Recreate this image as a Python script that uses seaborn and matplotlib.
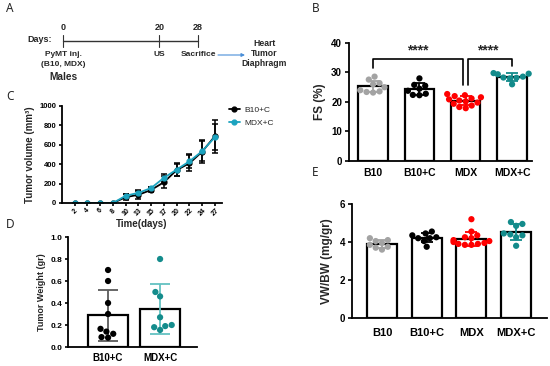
import warnings
warnings.filterwarnings("ignore")
import numpy as np
import pandas as pd
import matplotlib
matplotlib.use("Agg")
import matplotlib.pyplot as plt
import seaborn as sns

# ---------------- data ----------------
timeline_days = [0, 20, 28]
timeline_events = ["PyMT inj.", "US", "Sacrifice"]
cohort_lines = ["(B10, MDX)", "Males"]
harvested = ["Heart", "Tumor", "Diaphragm"]

groups = ["B10", "B10+C", "MDX", "MDX+C"]
fs_b10 = [28.6, 27.6, 26.4, 26.0, 25.0, 24.0, 23.6, 23.4, 23.2]
fs_b10c = [28.0, 25.8, 25.5, 24.5, 23.8, 22.8, 22.4, 22.3]
fs_mdx = [22.7, 22.3, 22.0, 21.6, 21.2, 20.9, 20.5, 20.2, 19.8, 19.4, 18.8, 18.3, 17.9]
fs_mdxc = [29.8, 29.6, 29.4, 28.6, 28.3, 28.2, 28.0, 26.0]
fs_sig = [("B10", "MDX", "****"), ("MDX", "MDX+C", "****")]

vw_b10 = [4.2, 4.1, 4.05, 3.95, 3.85, 3.75, 3.7, 3.6]
vw_b10c = [4.55, 4.45, 4.35, 4.25, 4.2, 4.2, 4.05, 3.75]
vw_mdx = [5.2, 4.55, 4.35, 4.25, 4.2, 4.1, 4.05, 4.0, 3.95, 3.9, 3.9, 3.85, 3.85]
vw_mdxc = [5.05, 4.95, 4.85, 4.45, 4.4, 4.35, 4.25, 3.8]

tumor_days = [2, 4, 6, 8, 10, 13, 15, 17, 20, 22, 24, 27]
vol_b10c_mean = [0, 0, 0, 0, 60, 85, 135, 215, 340, 410, 530, 690]
vol_b10c_sd = [0, 0, 0, 0, 30, 40, 25, 65, 65, 85, 120, 170]
vol_mdxc_mean = [0, 0, 0, 0, 75, 105, 155, 260, 345, 430, 535, 680]
vol_mdxc_sd = [0, 0, 0, 0, 20, 25, 15, 40, 70, 70, 100, 130]

tw_groups = ["B10+C", "MDX+C"]
tw_b10c = [0.70, 0.60, 0.40, 0.30, 0.14, 0.165, 0.12, 0.085, 0.09]
tw_mdxc = [0.80, 0.50, 0.46, 0.27, 0.20, 0.18, 0.19, 0.155]

# ---------------- style ----------------
sns.set_theme(style="ticks")
plt.rcParams['font.family'] = ['Liberation Sans', 'DejaVu Sans']
plt.rcParams.update({
    'font.weight': 'bold', 'axes.labelweight': 'bold',
    'axes.linewidth': 1.3, 'axes.edgecolor': 'black',
    'xtick.color': 'black', 'ytick.color': 'black',
    'xtick.major.width': 1.2, 'ytick.major.width': 1.2,
    'xtick.major.size': 3, 'ytick.major.size': 3,
})

W, H = 550, 366
fig = plt.figure(figsize=(W / 100, H / 100), dpi=100)


def px_axes(x0, y0, x1, y1):
    return fig.add_axes([x0 / W, 1 - y1 / H, (x1 - x0) / W, (y1 - y0) / H])


def ftext(x, y, s, **kw):
    fig.text(x / W, 1 - y / H, s, **kw)


def long_df(names, arrays):
    return pd.DataFrame({
        "group": np.concatenate([[n] * len(a) for n, a in zip(names, arrays)]),
        "value": np.concatenate([np.asarray(a, float) for a in arrays]),
    })


def bar_panel(ax, df, order, pal, errpal, width, size, capsize):
    sns.barplot(data=df, x="group", y="value", order=order, errorbar=None,
                color="white", edgecolor="black", linewidth=1.6, width=width,
                ax=ax, zorder=1)
    stats = df.groupby("group")["value"].agg(["mean", "std"]).reindex(order)
    for i, g in enumerate(order):
        ax.errorbar(i, stats.loc[g, "mean"], yerr=stats.loc[g, "std"],
                    color=errpal[g], capsize=capsize, elinewidth=1.3,
                    capthick=1.3, zorder=2)
    sns.swarmplot(data=df, x="group", y="value", order=order, hue="group",
                  palette=pal, size=size, ax=ax, legend=False, zorder=3,
                  linewidth=0)
    sns.despine(ax=ax)
    ax.set_xlabel("")
    ax.tick_params(axis="x", length=0)


# panel letters
for lab, x, y in [("A", 6, 9), ("B", 312, 9), ("C", 6, 97), ("D", 6, 225), ("E", 312, 173)]:
    ftext(x, y, lab, ha="left", va="center", fontsize=8.5, fontweight="normal",
          family=["Noto Sans", "DejaVu Sans"])

# ---------------- Panel A ----------------
axA = px_axes(63, 20, 198, 85)
axA.set_xlim(min(timeline_days), max(timeline_days))
axA.set_ylim(85, 20)
axA.axis("off")
axA.plot([min(timeline_days), max(timeline_days)], [41, 41], color="#333333",
         lw=1.0, clip_on=False)
for d, ev in zip(timeline_days, timeline_events):
    axA.plot([d, d], [35, 47], color="#333333", lw=0.8, clip_on=False)
    axA.text(d, 27, str(d), ha="center", va="center", fontsize=6.5)
    axA.text(d, 55, ev, ha="center", va="center", fontsize=6)
axA.text(min(timeline_days), 65, cohort_lines[0], ha="center", va="center", fontsize=6)
axA.text(min(timeline_days), 77, cohort_lines[1], ha="center", va="center", fontsize=7.3)
ftext(52, 40, "Days:", ha="right", va="center", fontsize=6.5)
axA.annotate("", xy=(245, H - 55), xytext=(218, H - 55), xycoords="figure pixels",
             textcoords="figure pixels",
             arrowprops=dict(arrowstyle="-|>", color="#4a8fd8", lw=0.8,
                             mutation_scale=5, shrinkA=0, shrinkB=0))
for i, organ in enumerate(harvested):
    ftext(264, 44 + 10 * i, organ, ha="center", va="center", fontsize=6.2)

# ---------------- Panel B ----------------
pal4 = {"B10": "#a3a3a3", "B10+C": "#000000", "MDX": "#ff0000", "MDX+C": "#138b8b"}
fs_df = long_df(groups, [fs_b10, fs_b10c, fs_mdx, fs_mdxc])
axB = px_axes(349, 43, 532, 161)
bar_panel(axB, fs_df, groups, pal4, pal4, 0.63, 4.5, 4.5)
axB.set_xlim(-0.52, 3.43)
axB.set_ylim(0, 40)
axB.set_yticks([0, 10, 20, 30, 40])
axB.set_ylabel("FS (%)", fontsize=8.5, labelpad=4)
axB.tick_params(axis="y", labelsize=7, pad=2)
axB.tick_params(axis="x", labelsize=7.5, pad=5)
means = fs_df.groupby("group")["value"].mean()
sds = fs_df.groupby("group")["value"].std()
top = 34.6
for k, (g1, g2, star) in enumerate(fs_sig):
    i1, i2 = groups.index(g1), groups.index(g2)
    x1 = i1 + (0.05 if g1 == "MDX" else 0)
    x2 = i2 - (0.05 if g2 == "MDX" else 0)
    y1 = 31.5 if g1 != "MDX" else means[g1] + sds[g1] + 4
    y2 = 32.3 if g2 != "MDX" else means[g2] + sds[g2] + 4
    if k == 0:
        y2 = 25.6
    else:
        y1 = 25.6
    axB.plot([x1, x1, x2, x2], [y1, top, top, y2], color="black", lw=1.2,
             clip_on=False, zorder=4)
    axB.text((i1 + i2) / 2 - 0.03, top + 0.6, star, ha="center", va="bottom",
             fontsize=10)

# ---------------- Panel E ----------------
vw_df = long_df(groups, [vw_b10, vw_b10c, vw_mdx, vw_mdxc])
axE = px_axes(352, 204, 547, 318)
bar_panel(axE, vw_df, groups, pal4, pal4, 0.67, 4.5, 4.5)
axE.set_xlim(-0.67, 3.69)
axE.set_ylim(0, 6)
axE.set_yticks([0, 2, 4, 6])
axE.set_ylabel("VW/BW (mg/gr)", fontsize=8.5, labelpad=5)
axE.tick_params(axis="y", labelsize=7, pad=2)
axE.tick_params(axis="x", labelsize=8, pad=7)

# ---------------- Panel C ----------------
axC = px_axes(62, 106, 222, 203)
day_lbl = [str(d) for d in tumor_days]
vol_df = pd.DataFrame({
    "day": day_lbl * 2,
    "volume": vol_b10c_mean + vol_mdxc_mean,
    "group": ["B10+C"] * len(day_lbl) + ["MDX+C"] * len(day_lbl),
})
cpal = {"B10+C": "#000000", "MDX+C": "#1ca3bf"}
pos = np.arange(len(tumor_days))
for means_, sds_ in [(vol_b10c_mean, vol_b10c_sd), (vol_mdxc_mean, vol_mdxc_sd)]:
    m = np.array(means_, float); s = np.array(sds_, float)
    mask = s > 0
    axC.errorbar(pos[mask], m[mask], yerr=s[mask], fmt="none", ecolor="black",
                 elinewidth=1.1, capsize=2.5, capthick=1.1, zorder=1)
sns.pointplot(data=vol_df, x="day", y="volume", hue="group", order=day_lbl,
              palette=cpal, errorbar=None, markers="o", markersize=3.5,
              linewidth=1.3, ax=axC)
sns.despine(ax=axC)
axC.set_xlim(-1.0, 11.55)
axC.set_ylim(0, 1000)
axC.set_yticks([0, 200, 400, 600, 800, 1000])
axC.tick_params(axis="y", labelsize=5.5, pad=1.5, length=2.5)
axC.tick_params(axis="x", labelsize=5, labelrotation=45, pad=1, length=2)
axC.set_xlabel("Time(days)", fontsize=7, labelpad=1)
axC.set_ylabel("Tumor volume (mm³)", fontsize=7, labelpad=3)
hdl, lbl = axC.get_legend_handles_labels()
axC.legend(hdl, lbl, loc="upper left", bbox_to_anchor=(229 / W, 1 - 106 / H),
           bbox_transform=fig.transFigure, frameon=False,
           prop={"size": 6, "weight": "normal"}, handlelength=1.3,
           handletextpad=0.6, borderpad=0, borderaxespad=0, labelspacing=0.6)

# ---------------- Panel D ----------------
tw_df = long_df(tw_groups, [tw_b10c, tw_mdxc])
axD = px_axes(68, 237, 197, 347)
bar_panel(axD, tw_df, tw_groups, {"B10+C": "#000000", "MDX+C": "#148c8c"},
          {"B10+C": "#5a5a5a", "MDX+C": "#63c1c1"}, 0.77, 4.5, 7)
axD.set_xlim(-0.77, 1.71)
axD.set_ylim(0, 1.0)
axD.set_yticks([0, 0.2, 0.4, 0.6, 0.8, 1.0])
axD.set_yticklabels([f"{v:.1f}" for v in [0, 0.2, 0.4, 0.6, 0.8, 1.0]])
axD.set_ylabel("Tumor Weight (gr)", fontsize=6.5, labelpad=3)
axD.tick_params(axis="y", labelsize=6, pad=1.5, length=2.5)
axD.tick_params(axis="x", labelsize=7, pad=4)

fig.savefig("out.png", dpi=100)
